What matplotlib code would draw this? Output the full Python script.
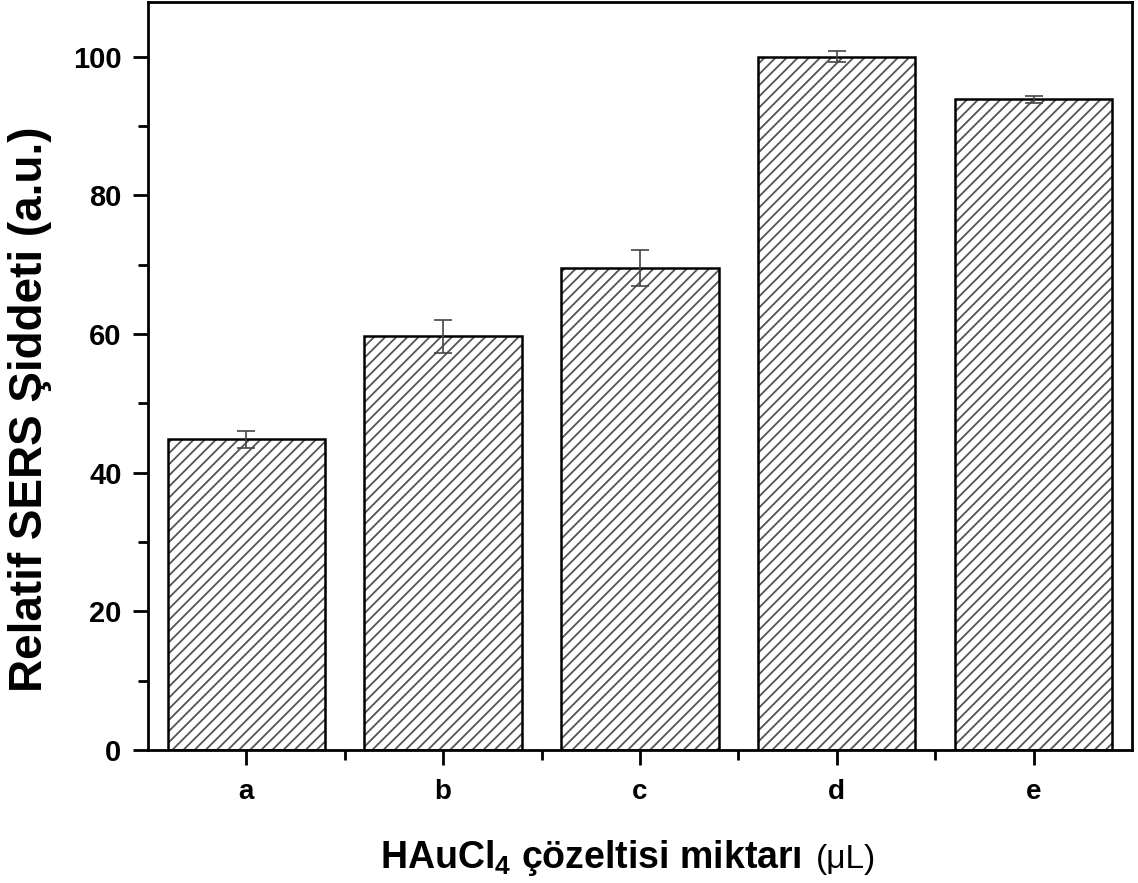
import numpy as np
import matplotlib
matplotlib.use("Agg")
import matplotlib.pyplot as plt
from matplotlib.ticker import MultipleLocator

# ---- data ----
samples = ["a", "b", "c", "d", "e"]
intensity = [44.8, 59.7, 69.5, 100.0, 93.9]
intensity_err = [1.2, 2.4, 2.6, 0.8, 0.5]

plt.rcParams.update({
    "font.family": "Liberation Sans",
    "font.weight": "bold",
    "mathtext.fontset": "custom",
    "mathtext.rm": "Liberation Sans:bold",
    "mathtext.bf": "Liberation Sans:bold",
    "mathtext.default": "bf",
    "hatch.linewidth": 1.3,
})

fig = plt.figure(figsize=(11.38, 8.83), dpi=100)
ax = fig.add_axes([0.130, 0.1506, 0.8647, 0.8471])

x = np.arange(len(samples))
# hatch layer (grey) + black outline layer
ax.bar(x, intensity, width=0.8, color="white", edgecolor="#555555",
       linewidth=0, hatch="///", zorder=2)
ax.bar(x, intensity, width=0.8, fill=False, edgecolor="black",
       linewidth=1.8, zorder=3)
ax.errorbar(x, intensity, yerr=intensity_err, fmt="none", ecolor="#444444",
            elinewidth=1.2, capsize=6.5, capthick=1.2, zorder=4)

ax.set_xlim(-0.5, 4.5)
ax.set_ylim(0, 107.9)
ax.set_xticks(x)
ax.set_xticklabels(samples)
ax.set_xticks(x[:-1] + 0.5, minor=True)
ax.yaxis.set_major_locator(MultipleLocator(20))
ax.yaxis.set_minor_locator(MultipleLocator(10))

ax.tick_params(axis="both", which="major", direction="out", length=11,
               width=2, pad=8)
ax.tick_params(axis="both", which="minor", direction="out", length=7, width=2)
ax.tick_params(top=False, right=False, which="both")
ax.tick_params(axis="y", which="major", labelsize=21)
ax.tick_params(axis="x", which="major", labelsize=20, pad=10)
for s in ax.spines.values():
    s.set_linewidth(2)

ax.set_ylabel("Relatif SERS Şiddeti (a.u.)", fontsize=33, fontweight="bold")
ax.yaxis.set_label_coords(-0.097, 0.456)

# x label: bold main part + lighter "(μL)"
t1 = fig.text(0.334, 0.017, r"HAuCl$_4$ çözeltisi miktarı", fontsize=27,
              fontweight="bold", ha="left", va="baseline")
fig.canvas.draw()
bb = t1.get_window_extent()
x_end = fig.transFigure.inverted().transform((bb.x1, 0))[0]
fig.text(x_end + 0.012, 0.017, "(μL)", fontsize=24, fontweight="normal",
         ha="left", va="baseline")

fig.savefig("out.png", dpi=100)
